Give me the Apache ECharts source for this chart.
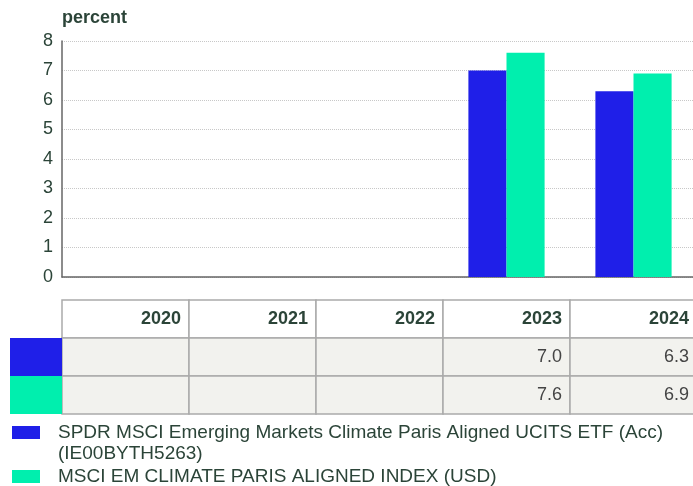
<!DOCTYPE html>
<html>
<head>
<meta charset="utf-8">
<script src="https://cdn.jsdelivr.net/npm/echarts@6/dist/echarts.min.js"></script>
<style>
html,body{margin:0;padding:0;background:#fff;}
#chart{width:693px;height:486px;}
</style>
</head>
<body>
<div id="chart"></div>
<script>
const years = ['2020', '2021', '2022', '2023', '2024'];
const seriesNames = [
  'SPDR MSCI Emerging Markets Climate Paris Aligned UCITS ETF (Acc)',
  'MSCI EM CLIMATE PARIS ALIGNED INDEX (USD)'
];
const seriesNameSecondLine = ['(IE00BYTH5263)', ''];
const etfValues = [null, null, null, 7.0, 6.3];
const indexValues = [null, null, null, 7.6, 6.9];
const yTicks = [0, 1, 2, 3, 4, 5, 6, 7, 8];
const tableRows = ['header', 'etf', 'index'];

const colors = ['#1f1fe8', '#00efae'];
const textDark = '#2b4438';
const fontFam = '"Liberation Sans", Arial, sans-serif';

const seriesValues = [etfValues, indexValues];

const cellData = [];
years.forEach((y, i) => {
  tableRows.forEach((r, j) => cellData.push([i, j]));
});
const swatchData = [[0, 1], [0, 2]];

function renderCell(params, api) {
  const xi = api.value(0), ri = api.value(1);
  const c = api.coord([xi, ri]);
  const s = api.size([1, 1]);
  const x0 = c[0] - s[0] / 2, y0 = c[1] - s[1] / 2;
  let txt = '';
  let font = 'normal 18px ' + fontFam;
  let fill = '#444';
  if (ri === 0) {
    txt = years[xi];
    font = 'bold 18px ' + fontFam;
    fill = textDark;
  } else {
    const v = seriesValues[ri - 1][xi];
    txt = v == null ? '' : v.toFixed(1);
  }
  return {
    type: 'group',
    children: [
      {
        type: 'rect',
        shape: { x: x0, y: y0, width: s[0], height: s[1] },
        style: { fill: ri === 0 ? '#ffffff' : '#f2f2ee', stroke: '#ababab', lineWidth: 1.5 }
      },
      {
        type: 'text',
        style: {
          text: txt, x: x0 + s[0] - 8, y: c[1],
          align: 'right', verticalAlign: 'middle',
          font: font, fill: fill
        }
      }
    ]
  };
}

function renderSwatch(params, api) {
  const xi = api.value(0), ri = api.value(1);
  const c = api.coord([xi, ri]);
  const s = api.size([1, 1]);
  const x0 = c[0] - s[0] / 2, y0 = c[1] - s[1] / 2;
  return {
    type: 'rect',
    shape: { x: x0 - 52, y: y0, width: 52, height: s[1] },
    style: { fill: colors[ri - 1] }
  };
}

const legendCommon = {
  orient: 'vertical', left: 12, padding: 0,
  icon: 'rect', itemWidth: 28, itemHeight: 13,
  selectedMode: false,
  textStyle: { fontSize: 19, color: textDark, fontFamily: fontFam, padding: [0, 0, 0, 13] }
};

const chart = echarts.init(document.getElementById('chart'), null, { renderer: 'canvas' });
chart.setOption({
  animation: false,
  backgroundColor: '#fff',
  textStyle: { fontFamily: fontFam },
  title: {
    text: 'percent', left: 62, top: 9, padding: 0,
    textStyle: { fontSize: 18, fontWeight: 'bold', color: textDark, fontFamily: fontFam }
  },
  legend: [
    Object.assign({}, legendCommon, { data: [seriesNames[0]], top: 423 }),
    Object.assign({}, legendCommon, { data: [seriesNames[1]], top: 467 })
  ],
  graphic: [
    {
      type: 'text', left: 58, top: 444,
      style: { text: seriesNameSecondLine[0], font: 'normal 19px ' + fontFam, fill: textDark }
    }
  ],
  grid: [
    { left: 62, width: 635, top: 41, height: 236, outerBoundsMode: 'none', containLabel: false },
    { left: 62, width: 635, top: 300, height: 114, outerBoundsMode: 'none', containLabel: false }
  ],
  xAxis: [
    {
      type: 'category', data: years, gridIndex: 0,
      axisLine: { lineStyle: { color: '#666', width: 1.5 } },
      axisTick: { show: false }, axisLabel: { show: false }
    },
    {
      type: 'category', data: years, gridIndex: 1,
      axisLine: { show: false }, axisTick: { show: false }, axisLabel: { show: false }
    }
  ],
  yAxis: [
    {
      type: 'value', gridIndex: 0, min: yTicks[0], max: yTicks[yTicks.length - 1], interval: 1,
      axisLine: { show: true, lineStyle: { color: '#666', width: 1.5 } },
      axisTick: { show: false },
      axisLabel: { fontSize: 18, color: textDark, margin: 9, fontFamily: fontFam },
      splitLine: { lineStyle: { color: '#c8c8c8', type: 'dotted', width: 1 } }
    },
    {
      type: 'category', data: tableRows, gridIndex: 1, inverse: true,
      axisLine: { show: false }, axisTick: { show: false }, axisLabel: { show: false }
    }
  ],
  series: [
    {
      name: seriesNames[0], type: 'bar', data: etfValues,
      xAxisIndex: 0, yAxisIndex: 0,
      barWidth: '30%', barGap: '0%',
      itemStyle: { color: colors[0] }
    },
    {
      name: seriesNames[1], type: 'bar', data: indexValues,
      xAxisIndex: 0, yAxisIndex: 0,
      barWidth: '30%', barGap: '0%',
      itemStyle: { color: colors[1] }
    },
    {
      type: 'custom', xAxisIndex: 1, yAxisIndex: 1,
      renderItem: renderCell, data: cellData, silent: true
    },
    {
      type: 'custom', xAxisIndex: 1, yAxisIndex: 1,
      renderItem: renderSwatch, data: swatchData, silent: true
    }
  ]
});
</script>
</body>
</html>
